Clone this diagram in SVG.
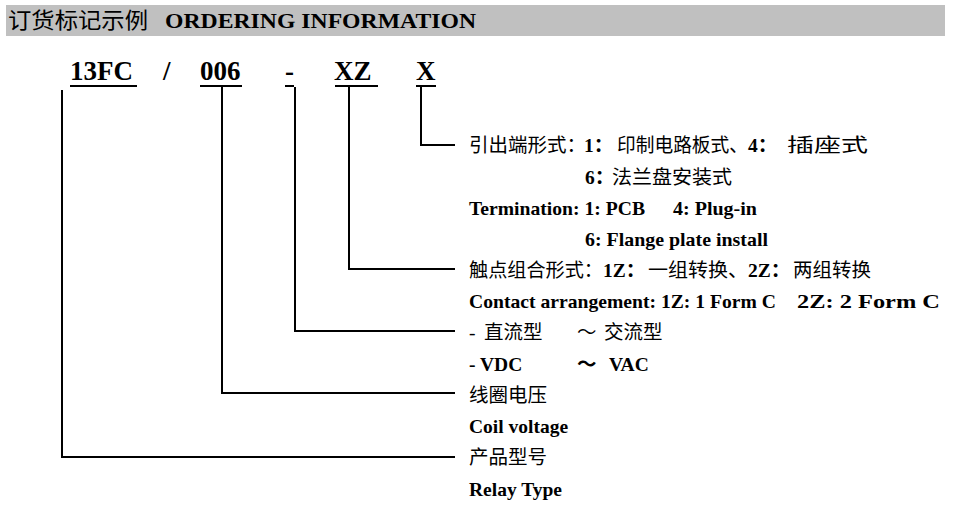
<svg xmlns="http://www.w3.org/2000/svg" width="954" height="510" viewBox="0 0 954 510">
<style>
text{font-family:"Liberation Serif","Noto Sans CJK SC",serif;font-weight:bold;fill:#000}
.t{font-size:19.5px}
.c{font-size:27px}
.h{font-size:22px}
.cn{font-weight:normal}
line,polyline{stroke:#000;stroke-width:2;fill:none}
</style>
<rect width="954" height="510" fill="#fff"/>
<g id="header">
<rect x="6" y="5" width="939" height="31" fill="#c0c0c0"/>
<text class="h cn" x="8" y="28" textLength="140" lengthAdjust="spacingAndGlyphs">订货标记示例</text>
<text class="h" x="165" y="28" textLength="311" lengthAdjust="spacingAndGlyphs">ORDERING INFORMATION</text>
</g>
<g id="code">
<text class="c" x="70" y="80">13FC</text>
<text class="c" x="163" y="80">/</text>
<text class="c" x="200" y="80">006</text>
<text class="c" x="285" y="80">-</text>
<text class="c" x="334" y="80">XZ</text>
<text class="c" x="416" y="80">X</text>
<line x1="70" y1="86" x2="137" y2="86"/>
<line x1="200" y1="86" x2="242" y2="86"/>
<line x1="285" y1="86" x2="294" y2="86"/>
<line x1="335" y1="86" x2="378" y2="86"/>
<line x1="416" y1="86" x2="436" y2="86"/>
</g>
<g id="connectors">
<polyline points="421,87 421,145 455,145"/>
<polyline points="349,87 349,269 455,269"/>
<polyline points="295,87 295,331 455,331"/>
<polyline points="222,87 222,393 455,393"/>
<polyline points="62,90 62,457 455,457"/>
</g>
<g id="termination">
<text class="t" y="152"><tspan class="cn" x="469">引出端形式：</tspan><tspan x="584">1：</tspan><tspan class="cn" x="617" textLength="131" lengthAdjust="spacingAndGlyphs">印制电路板式、</tspan><tspan x="748">4：</tspan><tspan class="cn" x="787" textLength="81" lengthAdjust="spacingAndGlyphs">插座式</tspan></text>
<text class="t" y="184"><tspan x="585">6：</tspan><tspan class="cn" x="612" textLength="120" lengthAdjust="spacingAndGlyphs">法兰盘安装式</tspan></text>
<text class="t" y="215"><tspan x="469" textLength="176" lengthAdjust="spacingAndGlyphs">Termination: 1: PCB</tspan><tspan x="673" textLength="84" lengthAdjust="spacingAndGlyphs">4: Plug-in</tspan></text>
<text class="t" x="585" y="246" textLength="183" lengthAdjust="spacingAndGlyphs">6: Flange plate install</text>
</g>
<g id="contact">
<text class="t" y="277"><tspan class="cn" x="469" textLength="134" lengthAdjust="spacingAndGlyphs">触点组合形式：</tspan><tspan x="603">1Z：</tspan><tspan class="cn" x="648" textLength="100" lengthAdjust="spacingAndGlyphs">一组转换、</tspan><tspan x="748">2Z：</tspan><tspan class="cn" x="793" textLength="78" lengthAdjust="spacingAndGlyphs">两组转换</tspan></text>
<text class="t" y="308"><tspan x="469" textLength="307" lengthAdjust="spacingAndGlyphs">Contact arrangement: 1Z: 1 Form C</tspan><tspan x="797" textLength="143" lengthAdjust="spacingAndGlyphs">2Z: 2 Form C</tspan></text>
</g>
<g id="voltage-type">
<text class="t cn" y="339"><tspan x="469">-</tspan><tspan x="484">直流型</tspan><tspan x="577">～</tspan><tspan x="604">交流型</tspan></text>
<text class="t" y="371"><tspan x="469">- VDC</tspan><tspan x="577">～</tspan><tspan x="609">VAC</tspan></text>
</g>
<g id="coil">
<text class="t cn" x="469" y="402">线圈电压</text>
<text class="t" x="469" y="433">Coil voltage</text>
</g>
<g id="relay">
<text class="t cn" x="469" y="464">产品型号</text>
<text class="t" x="469" y="496">Relay Type</text>
</g>
</svg>
